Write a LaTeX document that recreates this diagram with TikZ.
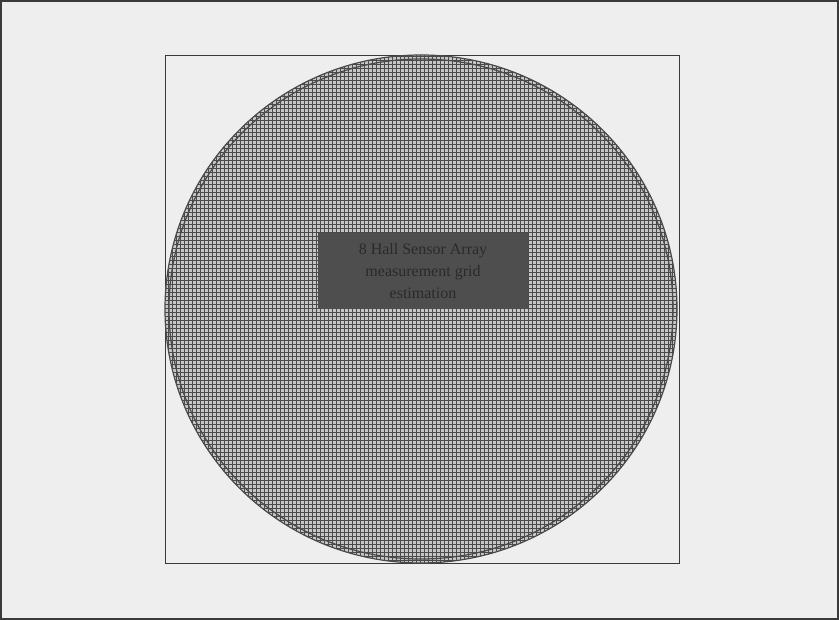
\documentclass[tikz,border=0pt]{standalone}
\usepackage{fontspec}
\setmainfont{Liberation Serif}
\usetikzlibrary{positioning, calc}
\definecolor{paper}{HTML}{EEEEEE}
\definecolor{gridline}{HTML}{4A4A4A}
\definecolor{darkbox}{HTML}{4E4E4E}
\definecolor{darktext}{HTML}{2A2A2A}
\definecolor{framegray}{HTML}{3A3A3A}

\begin{document}
\begin{tikzpicture}[x=1pt, y=-1pt,
    frameline/.style={draw=framegray, line width=0.9pt},
    ringline/.style={draw=gridline, line width=1.2pt},
    labelbox/.style={fill=darkbox, text=darktext, align=center,
      minimum width=210pt, minimum height=76pt, inner sep=2pt,
      font=\fontsize{16}{22}\selectfont}]
  % page and outer frame
  \fill[paper] (0,0) rectangle (839,620);
  \draw[framegray, line width=2pt] (1,1) rectangle (838,619);
  \useasboundingbox (0,0) rectangle (839,620);

  % square board
  \coordinate (boardnw) at (165,55);
  \coordinate (boardse) at (679,563);
  \draw[frameline] (boardnw) rectangle (boardse);

  % circular measurement area with grid
  \coordinate (centre) at (421,309);
  \fill[gray!45] (centre) circle [x radius=256, y radius=254];
  \begin{scope}
    \clip (centre) circle [x radius=256, y radius=254];
    \draw[gridline, line width=0.8pt, step=4pt] (160,50) grid (684,568);
  \end{scope}
  \draw[ringline] (centre) circle [x radius=256, y radius=254];
  \draw[ringline] (centre) circle [x radius=252, y radius=250];

  % label
  \node[labelbox] (label) at (423,271) {8 Hall Sensor Array\\measurement grid\\estimation};
\end{tikzpicture}
\end{document}
